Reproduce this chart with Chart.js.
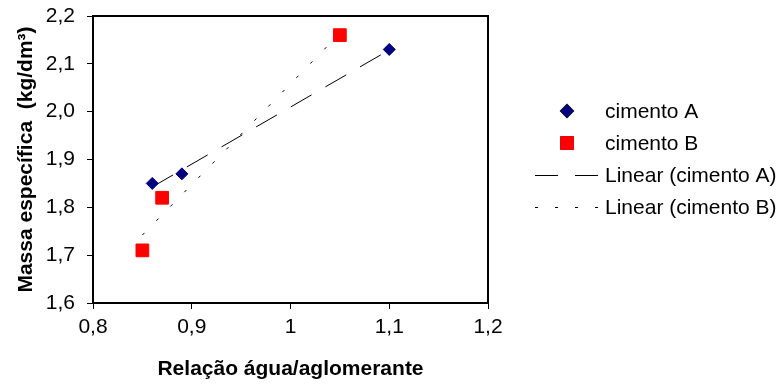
<!DOCTYPE html>
<html>
<head>
<meta charset="utf-8">
<script src="https://cdn.jsdelivr.net/npm/chart.js@4.4.0/dist/chart.umd.min.js"></script>
<style>
    body { margin: 0; background: #ffffff; }
    #wrap { width: 781px; height: 385px; }
</style>
</head>
<body>
<div id="wrap"><canvas id="massa_chart" width="781" height="385"></canvas></div>
<script>
// relação a/agl (x) e massa específica (y) de cada cimento
let cimentoA_x = [0.86, 0.89, 1.10];
let cimentoA_y = [1.85, 1.87, 2.13];
let cimentoB_x = [0.85, 0.87, 1.05];
let cimentoB_y = [1.71, 1.82, 2.16];

let xTickLabels = ["0,8", "0,9", "1", "1,1", "1,2"];
let yTickLabels = ["1,6", "1,7", "1,8", "1,9", "2,0", "2,1", "2,2"];

let serieNames = ["cimento A", "cimento B", "Linear (cimento A)", "Linear (cimento B)"];

const FONT = "'Liberation Sans', Arial, sans-serif";

function toPoints(xs, ys) {
    let pts = [];
    for (let i = 0; i < xs.length; i++) {
        pts.push({x: xs[i], y: ys[i]});
    }
    return pts;
}

// least squares line, drawn between the first and last x
function trendLine(xs, ys) {
    let n = xs.length;
    let mx = 0, my = 0;
    for (let i = 0; i < n; i++) { mx += xs[i]; my += ys[i]; }
    mx = mx / n; my = my / n;
    let sxx = 0, sxy = 0;
    for (let i = 0; i < n; i++) {
        sxx += (xs[i] - mx) * (xs[i] - mx);
        sxy += (xs[i] - mx) * (ys[i] - my);
    }
    let b = sxy / sxx;
    let a = my - b * mx;
    let x0 = Math.min.apply(null, xs);
    let x1 = Math.max.apply(null, xs);
    return [{x: x0, y: a + b * x0}, {x: x1, y: a + b * x1}];
}

// frame round the plot area + legend on the right
const boxAndLegend = {
    id: "boxAndLegend",
    afterDraw(chart) {
        let ctx = chart.ctx;
        let area = chart.chartArea;
        ctx.save();
        ctx.strokeStyle = "#000000";
        ctx.lineWidth = 2;
        ctx.strokeRect(area.left, area.top, area.right - area.left, area.bottom - area.top);

        let markX = 567, textX = 605;
        let rowY = [111, 143, 175, 207];
        ctx.font = "21px " + FONT;
        ctx.textBaseline = "middle";
        ctx.textAlign = "left";
        chart.data.datasets.forEach(function (ds, i) {
            let y = rowY[i];
            if (ds.showLine) {
                ctx.strokeStyle = ds.borderColor;
                ctx.lineWidth = ds.borderWidth;
                ctx.setLineDash(ds.legendDash);
                ctx.beginPath();
                ctx.moveTo(535, y + 0.5);
                ctx.lineTo(598, y + 0.5);
                ctx.stroke();
                ctx.setLineDash([]);
            } else {
                Chart.helpers.drawPoint(ctx, {
                    pointStyle: ds.pointStyle,
                    radius: ds.pointRadius,
                    borderWidth: ds.pointBorderWidth,
                    rotation: 0
                }, markX, y);
                ctx.fillStyle = ds.backgroundColor;
                ctx.strokeStyle = ds.borderColor;
                ctx.lineWidth = ds.pointBorderWidth;
                ctx.fill();
                ctx.stroke();
            }
            ctx.fillStyle = "#000000";
            ctx.fillText(ds.label, textX, y + 1);
        });
        ctx.restore();
    }
};

new Chart("massa_chart", {
    type: "scatter",
    data: {
        datasets: [{
            label: serieNames[0],
            data: toPoints(cimentoA_x, cimentoA_y),
            pointStyle: "rectRot",
            pointRadius: 6,
            pointBorderWidth: 1,
            backgroundColor: "#000080",
            borderColor: "#000080",
            order: 0
        }, {
            label: serieNames[1],
            data: toPoints(cimentoB_x, cimentoB_y),
            pointStyle: "rect",
            pointRadius: 9,
            pointBorderWidth: 1,
            backgroundColor: "#ff0000",
            borderColor: "#ff0000",
            order: 0
        }, {
            label: serieNames[2],
            data: trendLine(cimentoA_x, cimentoA_y),
            showLine: true,
            pointRadius: 0,
            borderColor: "#000000",
            borderWidth: 1,
            borderDash: [24, 16],
            legendDash: [23, 17],
            order: 1
        }, {
            label: serieNames[3],
            data: trendLine(cimentoB_x, cimentoB_y),
            showLine: true,
            pointRadius: 0,
            borderColor: "#000000",
            borderWidth: 1,
            borderDash: [3, 17],
            legendDash: [3, 17],
            order: 1
        }]
    },
    options: {
        responsive: false,
        animation: false,
        devicePixelRatio: 1,
        layout: {padding: {left: 0, top: 16, right: 293, bottom: 0}},
        plugins: {
            legend: {display: false},
            tooltip: {enabled: false}
        },
        scales: {
            x: {
                type: "linear",
                min: 0.8,
                max: 1.2,
                afterFit: function (scale) { scale.height = 82; },
                ticks: {
                    stepSize: 0.1,
                    padding: 6,
                    color: "#000000",
                    font: {family: FONT, size: 21},
                    maxRotation: 0,
                    callback: function (value, index) { return xTickLabels[index]; }
                },
                grid: {display: true, drawOnChartArea: false, drawTicks: true, tickLength: 6, tickColor: "#000000", tickWidth: 1},
                border: {display: false},
                title: {
                    display: true,
                    text: "Relação água/aglomerante",
                    color: "#000000",
                    font: {family: FONT, size: 21, weight: "bold"},
                    padding: {top: 0, bottom: 3}
                }
            },
            y: {
                type: "linear",
                min: 1.6,
                max: 2.2,
                // tick padding would otherwise push the plot top down
                afterFit: function (scale) {
                    scale.width = 93;
                    scale.paddingTop = 12;
                    scale.paddingBottom = 12;
                },
                ticks: {
                    stepSize: 0.1,
                    padding: 12,
                    color: "#000000",
                    font: {family: FONT, size: 21},
                    callback: function (value, index) { return yTickLabels[index]; }
                },
                grid: {display: true, drawOnChartArea: false, drawTicks: true, tickLength: 6, tickColor: "#000000", tickWidth: 1},
                border: {display: false},
                title: {
                    display: true,
                    text: "Massa específica  (kg/dm³)",
                    color: "#000000",
                    font: {family: FONT, size: 21, weight: "bold"},
                    padding: {top: 14, bottom: 0}
                }
            }
        }
    },
    plugins: [boxAndLegend]
});
</script>
</body>
</html>
